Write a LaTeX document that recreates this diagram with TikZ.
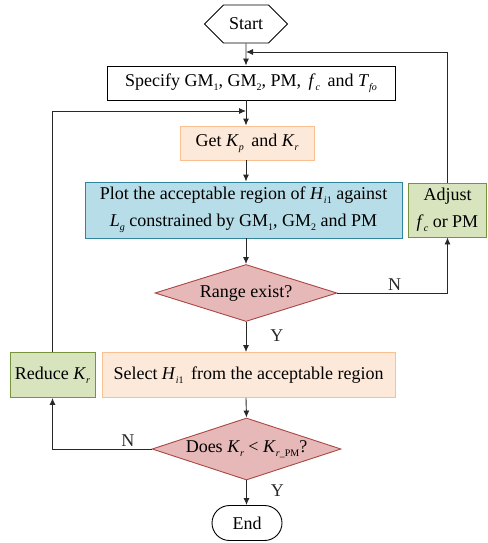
\documentclass[tikz,border=0pt]{standalone}
\usepackage{fontspec}
\setmainfont{Liberation Serif}
\usetikzlibrary{shapes.geometric,shapes.misc,shapes.symbols,arrows.meta,positioning}
\definecolor{fcorange}{RGB}{253,233,217}
\definecolor{fcorangeline}{RGB}{250,192,144}
\definecolor{fcblue}{RGB}{183,222,232}
\definecolor{fcblueline}{RGB}{49,133,156}
\definecolor{fcgreen}{RGB}{215,228,189}
\definecolor{fcgreenline}{RGB}{119,147,60}
\definecolor{fcred}{RGB}{230,185,184}
\definecolor{fcredline}{RGB}{170,70,67}
\definecolor{fcline}{RGB}{40,40,40}
% italic letter with italic subscript, upright letters with upright subscript
\newcommand{\isub}[2]{\textit{#1}\raisebox{-0.5ex}{\fontsize{10}{10}\selectfont\textit{#2}}}
\newcommand{\usub}[2]{#1\raisebox{-0.5ex}{\fontsize{10}{10}\selectfont #2}}

\begin{document}
\begin{tikzpicture}[
    x=1pt, y=-1pt,
    font=\fontsize{18}{27}\selectfont,
    every node/.style={inner sep=2pt},
    plain/.style={rectangle, draw=black, line width=0.9pt},
    orangebox/.style={rectangle, draw=fcorangeline, fill=fcorange, line width=0.9pt},
    bluebox/.style={rectangle, draw=fcblueline, fill=fcblue, line width=0.9pt, align=center},
    greenbox/.style={rectangle, draw=fcgreenline, fill=fcgreen, line width=0.9pt, align=center},
    decision/.style={diamond, draw=fcredline, fill=fcred, line width=0.9pt, inner sep=0pt, aspect=3.2},
    arrow/.style={-{Latex[length=7pt,width=6pt]}, fcline, line width=0.9pt}
]
\useasboundingbox (0,0) rectangle (487,543);

% Main column
\node[signal, signal to=west and east, draw, line width=0.9pt, minimum width=83pt, minimum height=38pt] (start) at (246,24) {Start};
\node[plain, minimum width=288pt, minimum height=34pt] (spec) at (251,83)
    {Specify \usub{GM}{1}, \usub{GM}{2}, PM,\, \isub{f}{c}\, and \isub{T}{fo}};
\node[orangebox, minimum width=134pt, minimum height=34pt] (get) at (247,143)
    {Get \isub{K}{p}\, and \isub{K}{r}};
\node[bluebox, minimum width=317pt, minimum height=56pt] (plot) at (243.5,210)
    {Plot the acceptable region of \isub{H}{i\textup{1}} against\\
     \isub{L}{g} constrained by \usub{GM}{1}, \usub{GM}{2} and PM};
\node[decision, minimum width=182pt, minimum height=57pt] (range) at (246,293) {Range exist?};
\node[orangebox, minimum width=293pt, minimum height=45pt] (select) at (248.5,375)
    {Select \isub{H}{i\textup{1}}\, from the acceptable region};
\node[decision, minimum width=189pt, minimum height=62pt, aspect=3] (does) at (246.5,449)
    {Does \isub{K}{r} < \textit{K}\raisebox{-0.5ex}{\fontsize{10}{10}\selectfont\textit{r}\_PM}?};
\node[rounded rectangle, draw, line width=0.9pt, minimum width=74pt, minimum height=35pt] (end) at (247,523) {End};

% Side boxes
\node[greenbox, minimum width=78pt, minimum height=54pt] (adjust) at (447.5,210)
    {Adjust\\ \isub{f}{c} or PM};
\node[greenbox, minimum width=85pt, minimum height=45pt] (reduce) at (52.5,375)
    {Reduce \isub{K}{r}};

% Joints on the main line
\coordinate (topjoin) at (246,52);
\coordinate (midjoin) at (246,111);

% Arrows - main flow
\draw[arrow] (start) -- (start |- spec.north);
\draw[arrow] (start |- spec.south) -- (start |- get.north);
\draw[arrow] (start |- get.south) -- (start |- plot.north);
\draw[arrow] (start |- plot.south) -- (range.north);
\draw[arrow] (range.south) -- node[right=22pt, pos=0.45] {Y} (range |- select.north);
\draw[arrow] (range |- select.south) -- (does.north);
\draw[arrow] (does.south) -- node[right=22pt, pos=0.4] {Y} (does |- end.north);

% Arrows - loops
\draw[arrow] (range.east) -| node[above, pos=0.26] {N} (adjust.south);
\draw[arrow] (adjust.north) |- (topjoin);
\draw[arrow] (does.west) -| node[above, pos=0.12] {N} (reduce.south);
\draw[arrow] (reduce.north) |- (midjoin);

\end{tikzpicture}
\end{document}
